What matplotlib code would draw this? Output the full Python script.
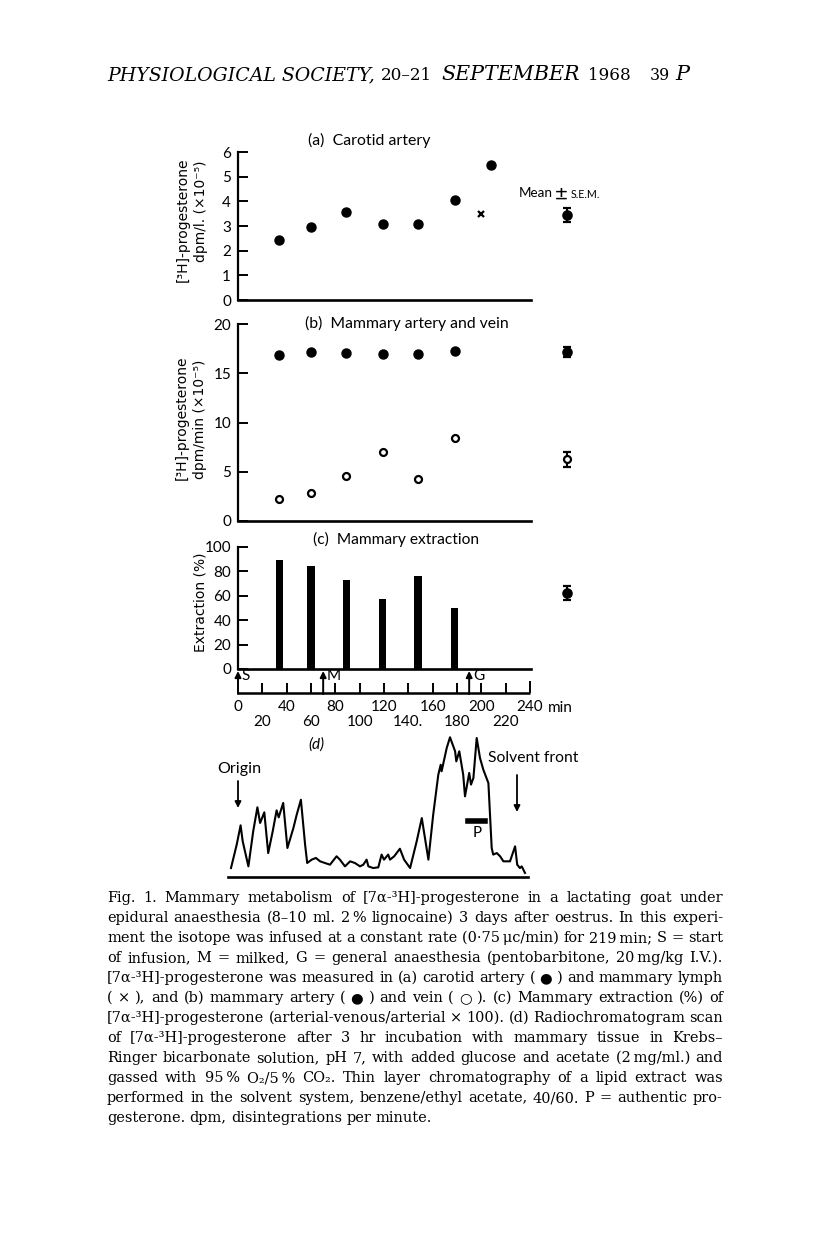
import matplotlib
matplotlib.use('Agg')
import matplotlib.pyplot as plt
from matplotlib.lines import Line2D

W, H = 816, 1258

# six paired samples (min after start of infusion)
times = [34, 60, 89, 119, 148, 178]
mean_time = 270

# (a) carotid artery, dpm/l x 10^-5
carotid = [2.44, 2.94, 3.58, 3.08, 3.08, 4.07]
carotid_late_t, carotid_late = 208, 5.49
lymph_t, lymph = 200, 3.48
carotid_mean, carotid_sem = 3.43, 0.28

# (b) mammary artery and vein, dpm/min x 10^-5
artery = [16.9, 17.15, 17.1, 17.0, 17.0, 17.3]
vein = [2.2, 2.85, 4.6, 7.0, 4.3, 8.45]
artery_mean, artery_sem = 17.15, 0.48
vein_mean, vein_sem = 6.25, 0.77

# (c) mammary extraction, %
extraction = [89.6, 84.5, 72.8, 57.0, 76.3, 50.4]
extraction_mean, extraction_sem = 62.4, 6.0

# time scale
time_ticks = list(range(0, 241, 20))
time_labels = ['0', '20', '40', '60', '80', '100', '120', '140.', '160',
               '180', '200', '220', '240']
event_names = ['S', 'M', 'G']
event_times = [0, 70, 190]

# (d) radiochromatogram scan (distance along plate, relative counts)
scan_x = [1.0, 2.9, 4.2, 4.9, 6.8, 8.4, 9.8, 10.7, 12.1, 13.4, 14.9, 16.2, 16.9,
          18.4, 19.8, 21.8, 22.9, 24.3, 25.7, 26.4, 27.9, 29.3, 30.7, 32.3, 34.0,
          36.2, 37.3, 39.0, 40.7, 42.3, 44.0, 45.1, 46.2, 46.8, 48.4, 50.1, 51.2,
          52.0, 53.4, 54.0, 55.4, 57.3, 58.7, 60.7, 62.9, 64.6, 65.3, 66.8, 68.4,
          70.1, 70.9, 71.2, 72.9, 74.0, 75.7, 76.1, 77.1, 78.4, 79.0, 80.4, 81.0,
          81.8, 82.9, 84.0, 85.1, 86.8, 87.9, 88.4, 89.6, 90.7, 91.8, 94.0, 95.7,
          96.4, 97.3, 97.9, 99.0]
scan_y = [6.4, 23.1, 36.9, 25.5, 7.6, 32.6, 49.8, 38.6, 46.2, 17.1, 32.6, 47.6, 42.6,
          52.9, 20.7, 35.0, 44.5, 55.2, 23.1, 10.0, 12.4, 13.6, 11.2, 10.0, 8.8,
          14.8, 12.4, 7.6, 11.2, 10.0, 7.6, 8.8, 12.4, 7.6, 6.4, 6.9, 16.0,
          12.4, 16.0, 12.4, 14.8, 20.2, 12.4, 6.4, 25.5, 42.1, 32.6, 12.4, 44.5,
          73.1, 80.2, 75.5, 92.1, 99.8, 89.8, 82.6, 89.8, 73.1, 57.6, 74.3, 66.0,
          70.7, 99.3, 85.0, 76.7, 67.1, 20.7, 16.0, 17.1, 14.8, 11.2, 11.2, 21.9,
          8.8, 6.4, 7.6, 2.9]

caption = [
    "Fig. 1. Mammary metabolism of [7α-³H]-progesterone in a lactating goat under",
    "epidural anaesthesia (8–10 ml. 2\u2009% lignocaine) 3 days after oestrus. In this experi-",
    "ment the isotope was infused at a constant rate (0·75\u2009μc/min) for 219\u2009min; S = start",
    "of infusion, M = milked, G = general anaesthesia (pentobarbitone, 20\u2009mg/kg I.V.).",
    "[7α-³H]-progesterone was measured in (a) carotid artery ( ● ) and mammary lymph",
    "( × ), and (b) mammary artery ( ● ) and vein ( ○ ). (c) Mammary extraction (%) of",
    "[7α-³H]-progesterone (arterial-venous/arterial × 100). (d) Radiochromatogram scan",
    "of [7α-³H]-progesterone after 3 hr incubation with mammary tissue in Krebs–",
    "Ringer bicarbonate solution, pH 7, with added glucose and acetate (2\u2009mg/ml.) and",
    "gassed with 95\u2009% O₂/5\u2009% CO₂. Thin layer chromatography of a lipid extract was",
    "performed in the solvent system, benzene/ethyl acetate, 40/60. P = authentic pro-",
    "gesterone. dpm, disintegrations per minute.",
]

plt.rcParams['font.family'] = ['Lato', 'DejaVu Sans']
SERIF = ['DejaVu Serif', 'DejaVu Sans']
WIDE = ['DejaVu Sans']

fig = plt.figure(figsize=(W / 100, H / 100), dpi=100)
fig.patch.set_facecolor('white')
renderer = fig.canvas.get_renderer()

K = (530 - 238) / 240  # px per minute
CAP_X0, CAP_X1 = 107, 723


def px_axes(left, top, right, bottom):
    return fig.add_axes([left / W, 1 - bottom / H, (right - left) / W, (bottom - top) / H])


def ftext(x, y, s, **kw):
    kw.setdefault('va', 'center')
    return fig.text(x / W, 1 - y / H, s, **kw)


def fit_text(x0, x1, y, s, size=10, **kw):
    t = ftext(x0, y, s, ha='left', fontsize=size, **kw)
    w = t.get_window_extent(renderer).width
    t.set_fontsize(size * (x1 - x0) / w)
    return t


def ylabel(x, top, s):
    return ftext(x, top, s, rotation=90, ha='center', va='top', fontsize=10, family=WIDE)


def word_widths(words, size):
    arts = [ftext(0, 0, w, ha='left', fontsize=size, family=SERIF) for w in words]
    ws = [a.get_window_extent(renderer).width for a in arts]
    for a in arts:
        a.remove()
    return ws


def caption_size(lines, base=10):
    ratios = []
    for line in lines[:-1]:
        words = line.split(' ')
        space = 0.3 * base * 100 / 72
        ratios.append((CAP_X1 - CAP_X0 - (len(words) - 1) * space) / sum(word_widths(words, base)))
    return base * min(ratios)


def justify(line, y, size, last=False):
    words = line.split(' ')
    widths = word_widths(words, size)
    if last:
        gap = 0.3 * size * 100 / 72
    else:
        gap = (CAP_X1 - CAP_X0 - sum(widths)) / (len(words) - 1)
    x = CAP_X0
    for w, wd in zip(words, widths):
        ftext(x, y, w, ha='left', fontsize=size, family=SERIF)
        x += wd + gap


def panel(top, bottom, ymax, yticks):
    ax = px_axes(238, top, 238 + 300 * K, bottom)
    ax.set_xlim(0, 300)
    ax.set_ylim(0, ymax)
    ax.patch.set_alpha(0)
    for s in ['top', 'right']:
        ax.spines[s].set_visible(False)
    ax.spines['left'].set_bounds(0, ymax)
    ax.spines['bottom'].set_bounds(0, 241)
    ax.spines['left'].set_linewidth(1.6)
    ax.spines['bottom'].set_linewidth(1.9)
    ax.set_xticks([])
    ax.set_yticks(yticks)
    ax.tick_params(axis='y', direction='in', length=7, width=1.4, pad=5, labelsize=11)
    return ax


def mean_point(ax, m, e, filled=True):
    ax.errorbar(mean_time, m, yerr=e, fmt='o', color='k', ms=6 if filled else 5,
                mfc='k' if filled else 'white', mew=1.6, capsize=3, elinewidth=1.5,
                capthick=1.5, clip_on=False)


# header
fit_text(107, 373, 75, 'PHYSIOLOGICAL SOCIETY,', size=13, family=SERIF, style='italic')
fit_text(381, 432, 75, '20–21', size=13, family=SERIF)
fit_text(441, 579, 75, 'SEPTEMBER', size=13, family=SERIF, style='italic')
fit_text(588, 631, 75, '1968', size=13, family=SERIF)
fit_text(650, 670, 75, '39', size=13, family=SERIF)
fit_text(675, 689, 75, 'P', size=13, family=SERIF, style='italic')

# (a)
ax_a = panel(152, 300, 6, range(0, 7))
ax_a.plot(times, carotid, 'o', color='k', ms=6.5, clip_on=False)
ax_a.plot(carotid_late_t, carotid_late, 'o', color='k', ms=6.5, clip_on=False)
ax_a.plot(lymph_t, lymph, 'x', color='k', ms=4.5, mew=1.6)
mean_point(ax_a, carotid_mean, carotid_sem)
fit_text(308, 430, 140, '(a)  Carotid artery')
fit_text(519, 553, 193, 'Mean')
fit_text(555, 568, 194, '±', size=12)
fit_text(571, 600, 194, 'S.E.M.', size=7)
ylabel(183, 158, '[³H]-progesterone')
ylabel(201, 160, 'dpm/l. (×10⁻⁵)')

# (b)
ax_b = panel(324, 521, 20, range(0, 21, 5))
ax_b.plot(times, artery, 'o', color='k', ms=6.5, clip_on=False)
ax_b.plot(times, vein, 'o', color='k', mfc='white', mew=1.6, ms=5)
mean_point(ax_b, artery_mean, artery_sem)
mean_point(ax_b, vein_mean, vein_sem, filled=False)
fit_text(305, 509, 323, '(b)  Mammary artery and vein')
ylabel(182, 356, '[³H]-progesterone')
ylabel(200, 360, 'dpm/min (×10⁻⁵)')

# (c)
ax_c = panel(547, 669, 100, range(0, 101, 20))
ax_c.bar(times, extraction, width=6, color='k')
mean_point(ax_c, extraction_mean, extraction_sem)
fit_text(313, 478, 539, '(c)  Mammary extraction')
ylabel(200, 552, 'Extraction (%)')

# time scale (y in page pixels)
ax_t = px_axes(238, 660, 238 + 300 * K, 735)
ax_t.set_xlim(0, 300)
ax_t.set_ylim(735, 660)
ax_t.axis('off')
ax_t.hlines(693, 0, 240, color='k', lw=1.8)
ax_t.vlines(time_ticks[1:-1], 683, 693, color='k', lw=1.4)
ax_t.vlines(240, 681, 693, color='k', lw=1.4)
for name, t in zip(event_names, event_times):
    ax_t.annotate('', xy=(t, 671), xytext=(t, 694),
                  arrowprops=dict(arrowstyle='-|>', color='k', lw=1.4, mutation_scale=9,
                                  shrinkA=0, shrinkB=0))
    ax_t.text(t + 3, 676, name, ha='left', va='center', fontsize=11)
for t, lab in zip(time_ticks, time_labels):
    ax_t.text(t, 707 if t % 40 == 0 else 722, lab, ha='center', va='center', fontsize=11)
ftext(548, 708, 'min', ha='left', fontsize=11)

# (d)
ax_d = px_axes(228, 737, 528, 877)
ax_d.set_xlim(0, 100)
ax_d.set_ylim(0, 100)
ax_d.patch.set_alpha(0)
for s in ['top', 'right', 'left']:
    ax_d.spines[s].set_visible(False)
ax_d.spines['bottom'].set_linewidth(1.9)
ax_d.set_xticks([])
ax_d.set_yticks([])
ax_d.plot(scan_x, scan_y, color='k', lw=1.5, clip_on=False)
ftext(316, 745, '(d)', fontsize=11, ha='center', style='italic')
fit_text(217, 261, 769, 'Origin', size=11)
fit_text(488, 578, 758, 'Solvent front', size=11)
for x, y0, y1 in [(238, 781, 808), (517, 775, 812)]:
    ax_d.annotate('', xy=(x / W, 1 - y1 / H), xytext=(x / W, 1 - y0 / H),
                  xycoords='figure fraction', textcoords='figure fraction',
                  arrowprops=dict(arrowstyle='-|>', color='k', lw=1.3, mutation_scale=9,
                                  shrinkA=0, shrinkB=0))
fig.add_artist(Line2D([468 / W, 485 / W], [1 - 821 / H] * 2, color='k', lw=4))
ftext(477, 833, 'P', fontsize=11, ha='center')

# caption
cap_size = caption_size(caption)
for i, line in enumerate(caption):
    justify(line, 898 + 20 * i, cap_size, last=(i == len(caption) - 1))

fig.savefig('out.png', dpi=100, facecolor='white')
